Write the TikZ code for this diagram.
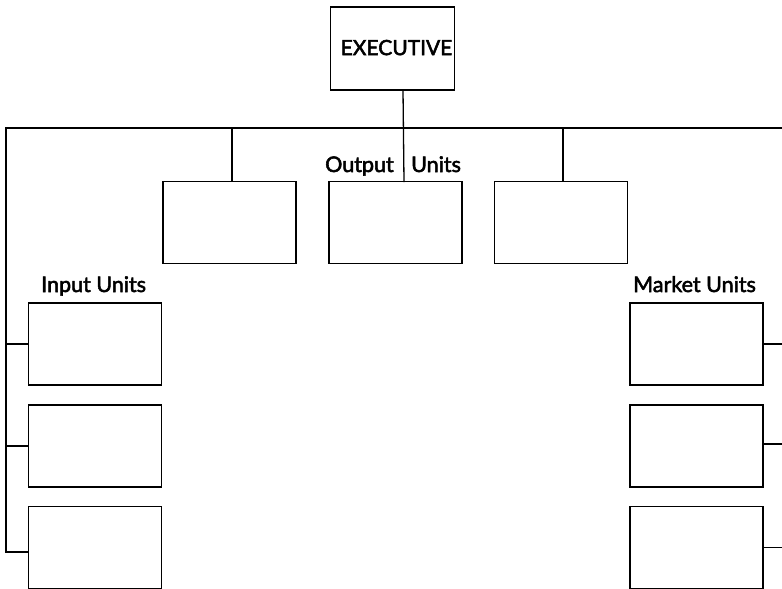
\documentclass[tikz,border=0pt]{standalone}
\usepackage{fontspec}
\setmainfont{Lato}[FakeBold=2.5]
\begin{document}
\begin{tikzpicture}[x=1pt,y=-1pt,
  unitbox/.style={draw, line width=1.3pt, rectangle, inner sep=0pt, outer sep=0pt,
    minimum width=133pt, minimum height=82pt},
  execbox/.style={unitbox, minimum width=124pt, minimum height=83pt,
    font=\fontsize{21}{25}\selectfont},
  caption/.style={font=\fontsize{21.5}{25}\selectfont, inner sep=0pt, anchor=base west},
  link/.style={line width=1.3pt, line cap=rect}]
  \useasboundingbox (0,0) rectangle (782,589);

  % executive at the top and the main bus below it
  \node[execbox] (exec) at (392.5,48.5) {\raisebox{2pt}{\hspace{8pt}EXECUTIVE}};
  \coordinate (busL) at (6,128);
  \coordinate (busR) at (782,128);
  \coordinate (spineL) at (6,552);

  % output units
  \node[unitbox] (o1) at (229.5,222.5) {};
  \node[unitbox] (o2) at (395.5,222.5) {};
  \node[unitbox] (o3) at (561,222.5) {};

  % input units
  \node[unitbox] (i1) at (95,344) {};
  \node[unitbox] (i2) at (95,446) {};
  \node[unitbox] (i3) at (95,547.5) {};

  % market units
  \node[unitbox] (m1) at (696.5,344) {};
  \node[unitbox] (m2) at (696.5,446) {};
  \node[unitbox] (m3) at (696.5,547.5) {};

  % labels
  \node[caption] (lout) at (325,172) {Output};
  \node[caption] (lunits) at (411,172) {Units};
  \node[caption] (lin) at (41,292) {Input Units};
  \node[caption] (lmkt) at (633,292) {Market Units};

  % connectors
  \draw[link] (busL) -- (busR);
  \draw[link] (busL) -- (spineL);
  \draw[link] ([xshift=10.5pt]exec.south) -- ([xshift=8.5pt]o2.north);
  \draw[link] ([xshift=2.5pt]o1.north) -- ([xshift=2.5pt]o1.north |- busL);
  \draw[link] ([xshift=2pt]o3.north) -- ([xshift=2pt]o3.north |- busL);

  \draw[link] (i1.west) -- (i1.west -| busL);
  \draw[link] (i2.west) -- (i2.west -| busL);
  \draw[link] ([yshift=-4.5pt]i3.west) -- (spineL);

  \draw[link] (m1.east) -- (m1.east -| busR);
  \draw[link] ([yshift=2pt]m2.east) -- ([yshift=2pt]m2.east -| busR);
  \draw[link] (m3.east) -- (m3.east -| busR);
\end{tikzpicture}
\end{document}
